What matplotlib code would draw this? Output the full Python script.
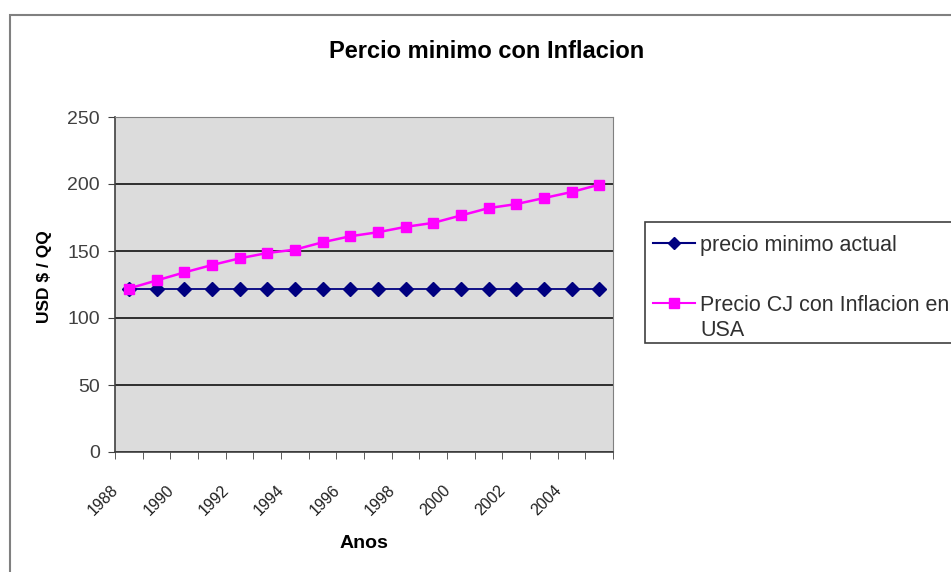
import matplotlib
matplotlib.use("Agg")
import matplotlib.pyplot as plt
import numpy as np
from matplotlib.patches import Rectangle
from matplotlib.lines import Line2D
from matplotlib.transforms import ScaledTranslation

plt.rcParams["font.family"] = ["Liberation Sans", "DejaVu Sans"]

# Data
years = list(range(1988, 2006))
precio_minimo = [122] * 18
precio_inflacion = [122, 128, 134, 139.5, 144.5, 148.5, 151, 156.5, 161, 164, 168,
                    171, 176.5, 182, 185, 189.5, 194, 199.5]
tick_years = list(range(1988, 2005, 2))

W, H = 951, 572
fig = plt.figure(figsize=(W / 100, H / 100), dpi=100)

def px(x, y):
    return x / W, 1 - y / H

# outer chart border
fig.add_artist(Rectangle(px(10, 600), 1.2, (600 - 15) / H, transform=fig.transFigure,
                         fill=False, edgecolor="#808080", linewidth=1.5))

ax = fig.add_axes([115 / W, 1 - 452 / H, (613 - 115) / W, (452 - 117) / H])
ax.set_facecolor("#DCDCDC")

x = np.arange(len(years))
ax.plot(x, precio_minimo, color="#000080", marker="D", markersize=7.5, linewidth=1.3,
        markeredgecolor="#000080", zorder=3)
ax.plot(x, precio_inflacion, color="#FF00FF", marker="s", markersize=7, linewidth=1.8,
        markeredgecolor="#FF00FF", zorder=4)

ax.set_xlim(-0.5, len(years) - 0.5)
ax.set_ylim(0, 250)
ax.set_yticks(np.arange(0, 251, 50))
ax.yaxis.grid(True, color="black", linewidth=1.1)
ax.set_axisbelow(True)

ax.set_xticks([years.index(t) for t in tick_years])
ax.set_xticklabels([str(t) for t in tick_years], rotation=45, ha="right",
                   rotation_mode="anchor", fontsize=11.5, color="#202020")
ax.set_xticks(np.arange(-0.5, len(years)), minor=True)
ax.tick_params(axis="x", which="major", length=0, pad=22)
ax.tick_params(axis="x", which="minor", length=5, direction="out", color="#404040")
ax.tick_params(axis="y", length=5, direction="out", color="#404040", labelsize=14,
               labelcolor="#404040", pad=6)
for lab in ax.get_xticklabels():
    lab.set_transform(lab.get_transform() + ScaledTranslation(-0.18, 0, fig.dpi_scale_trans))

for side in ["top", "right"]:
    ax.spines[side].set_color("#808080")
for side in ["left", "bottom"]:
    ax.spines[side].set_color("#404040")
    ax.spines[side].set_linewidth(1.2)

fig.text(*px(487, 51), "Percio minimo con Inflacion", ha="center", va="center",
         fontsize=17, fontweight="bold")
fig.text(*px(45, 277), "USD $ / QQ", ha="center", va="center", rotation=90,
         fontsize=12.5, fontweight="bold")
fig.text(*px(364, 544), "Anos", ha="center", va="center", fontsize=14, fontweight="bold")

# legend box
fig.add_artist(Rectangle(px(645, 343), (960 - 645) / W, (343 - 222) / H,
                         transform=fig.transFigure, facecolor="white",
                         edgecolor="#404040", linewidth=1.2))
legend_items = [("precio minimo actual", "#000080", "D", 243),
                ("Precio CJ con Inflacion en\nUSA", "#FF00FF", "s", 303)]
for label, col, mk, yy in legend_items:
    x0, y0 = px(653, yy)
    x1, _ = px(695, yy)
    fig.add_artist(Line2D([x0, x1], [y0, y0], transform=fig.transFigure, color=col,
                          linewidth=1.5))
    fig.add_artist(Line2D([(x0 + x1) / 2], [y0], transform=fig.transFigure, color=col,
                          marker=mk, markersize=6.5, markeredgecolor=col))
    fig.text(*px(700, yy - 8), label, ha="left", va="top", fontsize=15.5,
             color="#303030", linespacing=1.25)

fig.savefig("out.png", dpi=100)
